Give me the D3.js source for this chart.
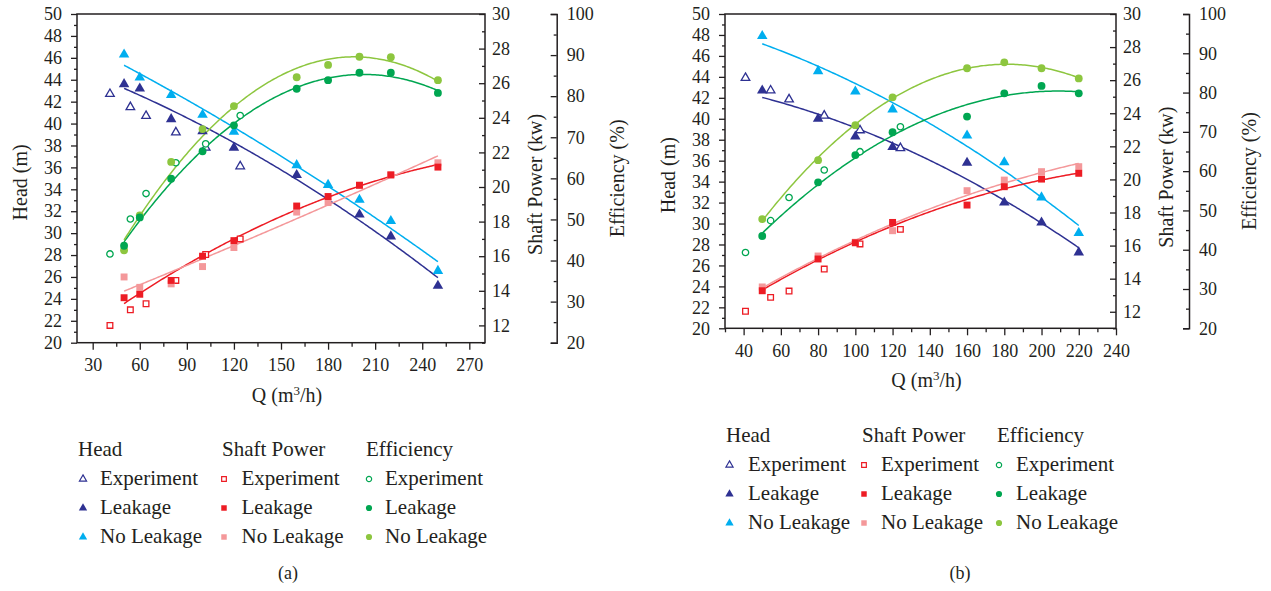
<!DOCTYPE html>
<html>
<head>
<meta charset="utf-8">
<script src="https://cdn.jsdelivr.net/npm/d3@7"></script>
<style>
  body { margin: 0; background: #fff; }
  svg text { font-family: "Liberation Serif", "Times New Roman", "DejaVu Serif", serif !important; fill: #231f20; }
  .axis line { stroke: #231f20; stroke-width: 1.3; }
  .axis path { stroke: #231f20; stroke-width: 1.5; fill: none; }
  .axis text { font-size: 18px; fill: #231f20; }
</style>
</head>
<body>
<svg width="1271" height="591" font-family="Liberation Serif, serif"></svg>
<script>
// panel (a)
const qExpA = [41, 54, 64, 83, 102, 124];
const qSimA = [50, 60, 80, 100, 120, 160, 180, 200, 220, 250];
const headExpA = [42.7, 41.5, 40.7, 39.2, 37.8, 36.1];
const headLeakA = [43.6, 43.2, 40.4, 39.3, 37.8, 35.3, null, 31.7, 29.7, 25.2];
const headNoLeakA = [46.3, 44.2, 42.6, 40.8, 39.25, 36.2, 34.4, 33.05, 31.1, 26.55];
const powerExpA = [12.0, 12.9, 13.25, 14.6, 16.1, 17.0];
const powerLeakA = [13.6, 13.8, 14.6, 16.0, 16.9, 18.9, 19.45, 20.1, 20.7, 21.15];
const powerNoLeakA = [14.8, 14.2, 14.4, 15.4, 16.5, 18.55, 19.1, 20.1, 20.7, 21.4];
const effExpA = [41.6, 50.1, 56.3, 63.8, 68.4, 75.3];
const effLeakA = [43.6, 50.5, 59.9, 66.6, 72.9, 81.8, 83.9, 85.7, 85.7, 80.8];
const effNoLeakA = [42.5, 51.0, 64.0, 72.0, 77.6, 84.6, 87.6, 89.6, 89.5, 83.9];

// panel (b)
const qExpB = [41, 54.5, 64.4, 83.3, 102.5, 124.2];
const qSimB = [50, 80, 100, 120, 160, 180, 200, 220];
const headExpB = [43.9, 42.7, 41.85, 40.3, 38.9, 37.2];
const headLeakB = [42.7, 40.0, 38.3, 37.3, 35.8, 32.0, 30.1, 27.25];
const headNoLeakB = [47.9, 44.55, 42.6, 40.9, 38.4, 35.85, 32.5, 29.1];
const powerExpB = [12.03, 12.87, 13.25, 14.58, 16.1, 16.98];
const powerLeakB = [13.27, 15.19, 16.17, 17.4, 18.45, 19.56, 20.02, 20.37];
const powerNoLeakB = [13.5, 15.37, 16.2, 16.9, 19.32, 19.96, 20.47, 20.77];
const effExpB = [39.3, 47.4, 53.3, 60.3, 64.95, 71.3];
const effLeakB = [43.5, 57.15, 64.1, 69.9, 73.9, 79.8, 81.7, 79.8];
const effNoLeakB = [47.8, 62.8, 71.7, 78.8, 86.2, 87.7, 86.2, 83.6];

// ticks
const xTicksA = [30, 60, 90, 120, 150, 180, 210, 240, 270];
const xTicksB = [40, 60, 80, 100, 120, 140, 160, 180, 200, 220, 240];
const headTicks = d3.range(20, 51, 2);
const powerTicks = d3.range(12, 31, 2);
const effTicks = d3.range(20, 101, 10);

const legendGroups = ["Head", "Shaft Power", "Efficiency"];
const legendItems = ["Experiment", "Leakage", "No Leakage"];

const colors = {
  head: ["#2e3192", "#2e3192", "#00aeef"],
  power: ["#ed1c24", "#ed1c24", "#f4989a"],
  eff: ["#00a651", "#00a651", "#8dc63f"]
};

const FONT = "'Liberation Serif', 'Times New Roman', 'DejaVu Serif', serif";
const svg = d3.select("svg");

// least squares quadratic used for the trend lines
function quadFit(xs, ys) {
  const pts = xs.map((x, i) => [x, ys[i]]).filter(p => p[1] != null);
  const s = [0, 0, 0, 0, 0], t = [0, 0, 0];
  pts.forEach(([x, y]) => {
    for (let k = 0; k < 5; k++) s[k] += Math.pow(x, k);
    for (let k = 0; k < 3; k++) t[k] += y * Math.pow(x, k);
  });
  const m = [[s[0], s[1], s[2], t[0]], [s[1], s[2], s[3], t[1]], [s[2], s[3], s[4], t[2]]];
  for (let i = 0; i < 3; i++) {
    for (let j = i + 1; j < 3; j++) {
      const f = m[j][i] / m[i][i];
      for (let k = i; k < 4; k++) m[j][k] -= f * m[i][k];
    }
  }
  const c = [0, 0, 0];
  for (let i = 2; i >= 0; i--) {
    let v = m[i][3];
    for (let k = i + 1; k < 3; k++) v -= m[i][k] * c[k];
    c[i] = v / m[i][i];
  }
  return q => c[0] + c[1] * q + c[2] * q * q;
}

function drawPanel(p) {
  const g = svg.append("g");
  const x = d3.scaleLinear().domain(p.xDomain).range([p.left, p.right]);
  const yH = d3.scaleLinear().domain([20, 50]).range([p.bottom, p.top]);
  const yP = d3.scaleLinear().domain([11, 30]).range([p.bottom, p.top]);
  const yE = d3.scaleLinear().domain([20, 100]).range([p.bottom, p.top]);

  // frame
  g.append("rect")
    .attr("x", p.left).attr("y", p.top)
    .attr("width", p.right - p.left).attr("height", p.bottom - p.top)
    .attr("fill", "none").attr("stroke", "#231f20").attr("stroke-width", 1.5);

  const fixFont = a => a.attr("font-family", FONT).selectAll("text").style("font-family", FONT);

  // bottom axis
  g.append("g").attr("class", "axis").attr("transform", `translate(0,${p.bottom})`)
    .call(d3.axisBottom(x).tickValues(p.xMinor).tickSize(4).tickFormat(""))
    .call(a => a.select(".domain").remove());
  g.append("g").attr("class", "axis").attr("transform", `translate(0,${p.bottom})`)
    .call(d3.axisBottom(x).tickValues(p.xTicks).tickSize(7).tickPadding(9))
    .call(a => a.select(".domain").remove())
    .call(fixFont);

  // head axis
  g.append("g").attr("class", "axis").attr("transform", `translate(${p.left},0)`)
    .call(d3.axisLeft(yH).tickValues(d3.range(21, 50, 2)).tickSize(3).tickFormat(""))
    .call(a => a.select(".domain").remove());
  g.append("g").attr("class", "axis").attr("transform", `translate(${p.left},0)`)
    .call(d3.axisLeft(yH).tickValues(headTicks).tickSize(6).tickPadding(9))
    .call(a => a.select(".domain").remove())
    .call(fixFont);

  // shaft power axis, ticks inside
  g.append("g").attr("class", "axis").attr("transform", `translate(${p.right},0)`)
    .call(d3.axisRight(yP).tickValues(d3.range(11, 30, 2)).tickSizeInner(-3).tickFormat(""))
    .call(a => a.select(".domain").remove());
  g.append("g").attr("class", "axis").attr("transform", `translate(${p.right},0)`)
    .call(d3.axisRight(yP).tickValues(powerTicks).tickSizeInner(-6).tickPadding(7))
    .call(a => a.select(".domain").remove())
    .call(fixFont);

  // efficiency axis
  g.append("g").attr("class", "axis").attr("transform", `translate(${p.effX},0)`)
    .call(d3.axisRight(yE).tickValues(d3.range(25, 100, 10)).tickSizeInner(-3).tickFormat(""))
    .call(a => a.select(".domain").remove());
  g.append("g").attr("class", "axis").attr("transform", `translate(${p.effX},0)`)
    .call(d3.axisRight(yE).tickValues(effTicks).tickSizeInner(-6).tickSizeOuter(-6).tickPadding(10))
    .call(fixFont);

  // axis titles
  const title = (tx, ty, rot, txt) => g.append("text")
    .attr("transform", `translate(${tx},${ty}) rotate(${rot})`)
    .attr("text-anchor", "middle").attr("dy", "0.35em")
    .style("font-family", FONT).style("font-size", "20px").text(txt);
  title(p.left - 57, (p.top + p.bottom) / 2 + 4, -90, "Head (m)");
  title(p.right + 50, (p.top + p.bottom) / 2 + 6, -90, "Shaft Power (kw)");
  title(p.effX + 60, (p.top + p.bottom) / 2, -90, "Efficiency (%)");
  const qt = g.append("text")
    .attr("x", (p.left + p.right) / 2 + 6).attr("y", p.bottom + 59)
    .attr("text-anchor", "middle").style("font-family", FONT).style("font-size", "20px");
  qt.append("tspan").text("Q (m");
  qt.append("tspan").attr("dy", -7).style("font-size", "13px").text("3");
  qt.append("tspan").attr("dy", 7).text("/h)");

  g.append("text").attr("x", p.labelX).attr("y", 579)
    .attr("text-anchor", "middle").style("font-family", FONT).style("font-size", "18px").text(p.label);

  const series = [
    { key: "head", y: yH, shape: d3.symbolTriangle, exp: p.headExp, sim: [p.headLeak, p.headNoLeak] },
    { key: "power", y: yP, shape: d3.symbolSquare, exp: p.powerExp, sim: [p.powerLeak, p.powerNoLeak] },
    { key: "eff", y: yE, shape: d3.symbolCircle, exp: p.effExp, sim: [p.effLeak, p.effNoLeak] }
  ];

  const qLine = d3.range(p.qSim[0], p.qSim[p.qSim.length - 1] + 0.01, 1);

  // trend lines
  series.forEach(s => {
    s.sim.forEach((vals, i) => {
      const f = quadFit(p.qSim, vals);
      g.append("path")
        .datum(qLine)
        .attr("fill", "none")
        .attr("stroke", colors[s.key][i + 1])
        .attr("stroke-width", 1.5)
        .attr("d", d3.line().x(q => x(q)).y(q => s.y(f(q))));
    });
  });

  // markers
  series.forEach(s => {
    // experiment (open)
    g.append("g").selectAll("path")
      .data(p.qExp.map((q, i) => [q, s.exp[i]]))
      .join("path")
      .attr("transform", d => `translate(${x(d[0])},${s.y(d[1])})`)
      .attr("d", d3.symbol(s.shape, 32))
      .attr("fill", "#fff").attr("stroke", colors[s.key][0]).attr("stroke-width", 1.3);
  });
  series.forEach(s => {
    [1, 0].forEach(i => {
      g.append("g").selectAll("path")
        .data(p.qSim.map((q, j) => [q, s.sim[i][j]]).filter(d => d[1] != null))
        .join("path")
        .attr("transform", d => `translate(${x(d[0])},${s.y(d[1])})`)
        .attr("d", d3.symbol(s.shape, 48))
        .attr("fill", colors[s.key][i + 1]);
    });
  });

  // legend
  const keys = ["head", "power", "eff"];
  const shapes = [d3.symbolTriangle, d3.symbolSquare, d3.symbolCircle];
  legendGroups.forEach((name, c) => {
    const cx = p.legendX[c];
    g.append("text").attr("x", cx).attr("y", p.legendY)
      .style("font-family", FONT).style("font-size", "21px").text(name);
    legendItems.forEach((item, r) => {
      const by = p.legendY + 29 + r * 29;
      const open = r === 0;
      g.append("path")
        .attr("transform", `translate(${cx + p.symOff[c]},${by - 6})`)
        .attr("d", d3.symbol(shapes[c], open ? 22 : 30))
        .attr("fill", open ? "#fff" : colors[keys[c]][r])
        .attr("stroke", open ? colors[keys[c]][0] : "none")
        .attr("stroke-width", 1.2);
      g.append("text").attr("x", cx + p.textOff[c]).attr("y", by)
        .style("font-family", FONT).style("font-size", "21px").text(item);
    });
  });
}

drawPanel({
  left: 77, right: 485, top: 14, bottom: 342.7, effX: 556.7,
  xDomain: [20, 280], xTicks: xTicksA, xMinor: d3.range(45, 280, 30),
  qExp: qExpA, qSim: qSimA,
  headExp: headExpA, headLeak: headLeakA, headNoLeak: headNoLeakA,
  powerExp: powerExpA, powerLeak: powerLeakA, powerNoLeak: powerNoLeakA,
  effExp: effExpA, effLeak: effLeakA, effNoLeak: effNoLeakA,
  label: "(a)", labelX: 288,
  legendX: [78, 222, 366], legendY: 456, symOff: [5, 2, 3], textOff: [22, 19.5, 19]
});

drawPanel({
  left: 725, right: 1116, top: 14, bottom: 328.3, effX: 1189,
  xDomain: [30, 240], xTicks: xTicksB, xMinor: d3.range(30, 240, 20),
  qExp: qExpB, qSim: qSimB,
  headExp: headExpB, headLeak: headLeakB, headNoLeak: headNoLeakB,
  powerExp: powerExpB, powerLeak: powerLeakB, powerNoLeak: powerNoLeakB,
  effExp: effExpB, effLeak: effLeakB, effNoLeak: effNoLeakB,
  label: "(b)", labelX: 960,
  legendX: [726, 862, 997], legendY: 442, symOff: [3.5, 2, 2], textOff: [22, 19, 19]
});
</script>
</body>
</html>
